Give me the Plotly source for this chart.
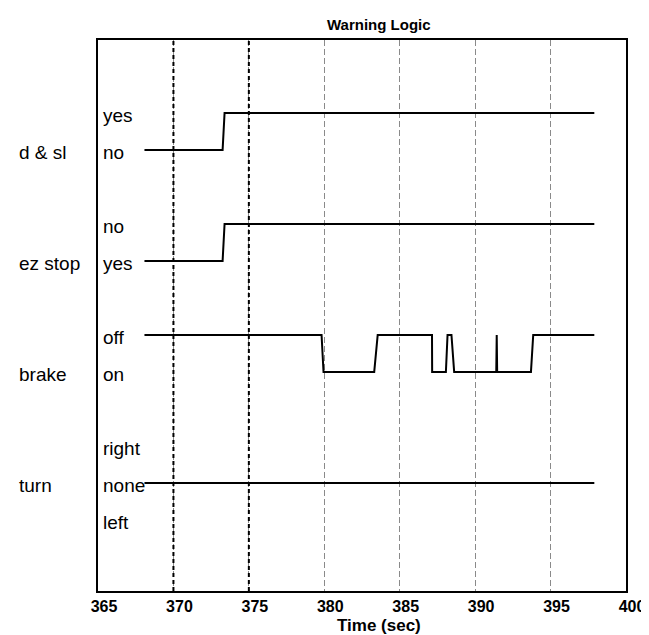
import plotly.graph_objects as go

# ---------------- data ----------------
signal_names = ["d & sl", "ez stop", "brake", "turn"]

# state labels per signal (bottom to top) and their vertical slot
dsl_states = ["no", "yes"]
dsl_slots = [10, 11]
ez_states = ["yes", "no"]
ez_slots = [7, 8]
brake_states = ["on", "off"]
brake_slots = [4, 5]
turn_states = ["left", "none", "right"]
turn_slots = [0, 1, 2]

# slot where the signal name is printed
name_slots = [10, 7, 4, 1]

# time series (sec) and states
dsl_time = [368.08, 373.26, 373.39, 397.9]
dsl_value = ["no", "no", "yes", "yes"]

ez_time = [368.08, 373.26, 373.39, 397.9]
ez_value = ["yes", "yes", "no", "no"]

brake_time = [368.08, 379.82, 379.95, 383.31, 383.54, 387.14, 387.15, 388.06,
              388.17, 388.43, 388.61, 391.40, 391.43, 391.46, 393.70, 393.85, 397.9]
brake_value = ["off", "off", "on", "on", "off", "off", "on", "on",
               "off", "off", "on", "on", "off", "on", "on", "off", "off"]

turn_time = [368.08, 397.9]
turn_value = ["none", "none"]

x_ticks = [365, 370, 375, 380, 385, 390, 395, 400]
bold_grid = [370, 375]

title_text = "Warning Logic"
x_title = "Time (sec)"
footer_text = "3\u00a0\u00a0\u00a0\u00a0R10724\u00a0\u00a0\u00a0\u00a0\u00a030 Aug 1999"

# ---------------- figure ----------------
FONT = "Liberation Sans, Arial, Helvetica, sans-serif"
W, H = 649, 635
ML, MR, MT, MB = 90, 25, 32, 52
PW = W - ML - MR
PH = H - MT - MB

fig = go.Figure()

series = [
    (dsl_time, dsl_value, dsl_states, dsl_slots),
    (ez_time, ez_value, ez_states, ez_slots),
    (brake_time, brake_value, brake_states, brake_slots),
    (turn_time, turn_value, turn_states, turn_slots),
]

for name, (t, v, states, slots) in zip(signal_names, series):
    lookup = dict(zip(states, slots))
    fig.add_trace(go.Scatter(
        x=t, y=[lookup[s] for s in v], mode="lines",
        line=dict(color="black", width=2), name=name,
        showlegend=False, hoverinfo="skip"))

annotations = []
# state labels
for states, slots in [(dsl_states, dsl_slots), (ez_states, ez_slots),
                      (brake_states, brake_slots), (turn_states, turn_slots)]:
    for s, sl in zip(states, slots):
        annotations.append(dict(
            x=x_ticks[0], y=sl, xref="x", yref="y", text=s, showarrow=False,
            xanchor="left", yanchor="middle", xshift=3, yshift=-3,
            font=dict(family=FONT, size=19, color="black")))

# signal names
for name, sl in zip(signal_names, name_slots):
    annotations.append(dict(
        x=(8 - ML) / PW, y=sl, xref="paper", yref="y", text=name,
        showarrow=False, xanchor="left", yanchor="middle", yshift=-3,
        font=dict(family=FONT, size=19, color="black")))

# title
annotations.append(dict(
    x=(374 - ML) / PW, y=1 + (MT - 16) / PH, xref="paper", yref="paper",
    text="<b>" + title_text + "</b>", showarrow=False, xanchor="center", yanchor="middle",
    font=dict(family=FONT, size=15, color="black")))
# x title
annotations.append(dict(
    x=(374 - ML) / PW, y=-(617 - (MT + PH)) / PH, xref="paper", yref="paper",
    text="<b>" + x_title + "</b>", showarrow=False, xanchor="center", yanchor="middle",
    font=dict(family=FONT, size=17, color="black")))
# footer (mostly cut off at bottom edge, as in the source)
annotations.append(dict(
    x=(6 - ML) / PW, y=-(629 - (MT + PH)) / PH, xref="paper", yref="paper",
    text=footer_text, showarrow=False, xanchor="left", yanchor="top",
    font=dict(family=FONT, size=17, color="black")))

shapes = []
for g in bold_grid:
    shapes.append(dict(type="line", xref="x", yref="paper", x0=g, x1=g, y0=0, y1=1,
                       line=dict(color="black", width=2, dash="4px,3px"), layer="above"))

fig.update_layout(
    width=W, height=H,
    margin=dict(l=ML, r=MR, t=MT, b=MB),
    plot_bgcolor="white", paper_bgcolor="white",
    annotations=annotations, shapes=shapes,
    xaxis=dict(range=[x_ticks[0], x_ticks[-1]], tickvals=x_ticks,
               ticktext=["<b>%d</b>" % v for v in x_ticks],
               showgrid=True, gridcolor="#8a8a8a", gridwidth=1, griddash="6px,3px",
               showline=True, linecolor="black", linewidth=2, mirror=True,
               ticks="", zeroline=False, ticklabelshift=6,
               tickfont=dict(family=FONT, size=16, color="black")),
    yaxis=dict(range=[-1.92, 12.97], showgrid=False, zeroline=False,
               showticklabels=False, ticks="",
               showline=True, linecolor="black", linewidth=2, mirror=True),
)

fig.write_html("out.html")
